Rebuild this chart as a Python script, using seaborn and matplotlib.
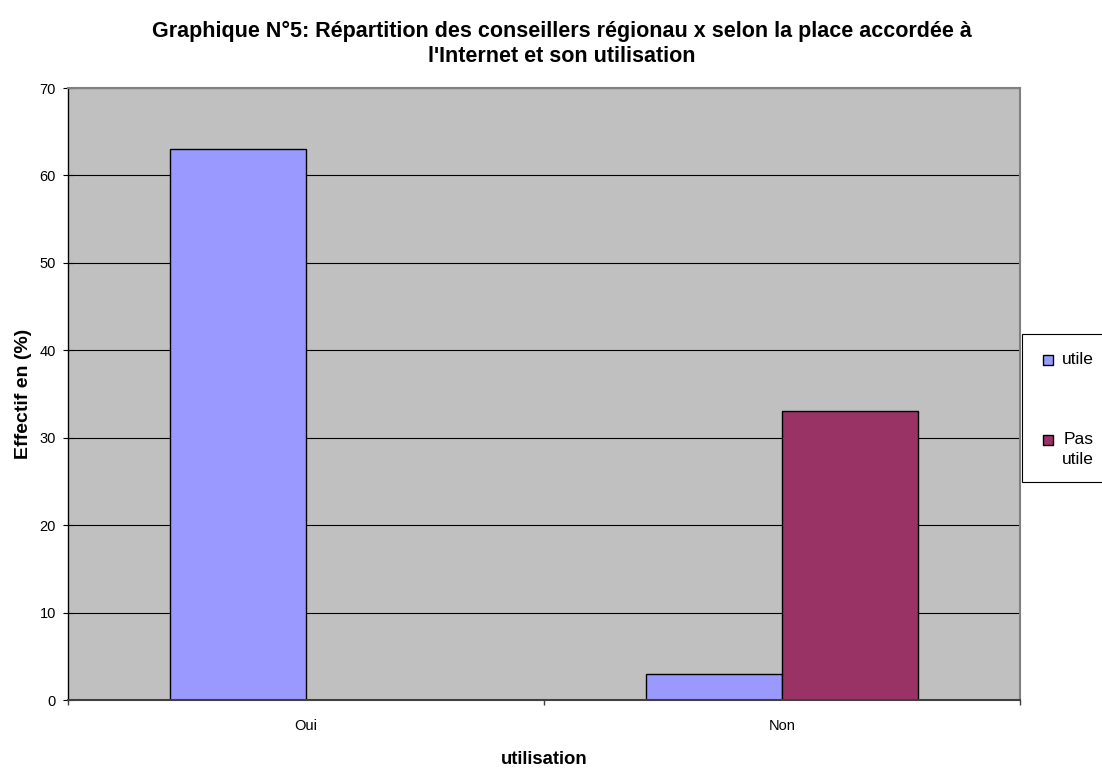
import matplotlib
matplotlib.use("Agg")
import matplotlib.pyplot as plt
import seaborn as sns
import pandas as pd
from matplotlib.patches import Rectangle

categories = ["Oui", "Non"]
series_names = ["utile", "Pas utile"]
utile = [63, 3]
pas_utile = [0, 33]
legend_labels = ["utile", "Pas\nutile"]
colors = ["#9999FF", "#993366"]

df = pd.DataFrame({
    "utilisation": categories * 2,
    "serie": [series_names[0]] * 2 + [series_names[1]] * 2,
    "valeur": utile + pas_utile,
})

sns.set_style("white")
plt.rcParams["font.family"] = ["Liberation Sans", "DejaVu Sans"]
plt.rcParams["text.color"] = "black"
plt.rcParams["axes.labelcolor"] = "black"
plt.rcParams["xtick.color"] = "black"
plt.rcParams["ytick.color"] = "black"

W, H = 1102, 768
fig = plt.figure(figsize=(W / 100, H / 100), dpi=100)
ax = fig.add_axes([68 / W, (H - 700) / H, (1020 - 68) / W, (700 - 88) / H])
ax.set_facecolor("#C0C0C0")

sns.barplot(data=df, x="utilisation", y="valeur", hue="serie", order=categories,
            hue_order=series_names, palette=colors, width=0.572, ax=ax,
            edgecolor="black", linewidth=1, saturation=1, legend=False)

ax.set_xlim(-0.5, 1.5)
ax.set_ylim(0, 70)
ax.set_yticks(range(0, 71, 10))
ax.yaxis.grid(True, color="black", linewidth=0.8)
ax.set_axisbelow(True)

ax.set_xticks([0, 1])
ax.set_xticklabels(categories, fontsize=10.5)
ax.tick_params(axis="x", which="major", length=0, pad=14, bottom=False)
ax.set_xticks([-0.5, 0.5, 1.5], minor=True)
ax.tick_params(axis="x", which="minor", bottom=True, length=3.6, direction="out",
               color="#404040", width=1)
ax.tick_params(axis="y", which="major", left=True, length=7.2, direction="inout",
               labelsize=10.5, color="black", width=0.8, pad=5)

ax.spines["left"].set_color("black")
ax.spines["left"].set_linewidth(1)
ax.spines["bottom"].set_color("#404040")
ax.spines["bottom"].set_linewidth(1.5)
for s in ["top", "right"]:
    ax.spines[s].set_color("#808080")
    ax.spines[s].set_linewidth(1.5)

ax.set_xlabel("utilisation", fontsize=13.3, fontweight="bold")
ax.xaxis.set_label_coords(0.5, (700 - 760) / 612)
ax.xaxis.label.set_va("center")
ax.set_ylabel("Effectif en (%)", fontsize=14, fontweight="bold")
ax.yaxis.set_label_coords((23 - 68) / 952, 0.5)
ax.yaxis.label.set_va("center")

fig.text(562 / W, 1 - 44 / H,
         "Graphique N°5: Répartition des conseillers régionau x selon la place accordée à\nl'Internet et son utilisation",
         fontsize=15.5, fontweight="bold", ha="center", va="center", linespacing=1.3)

# legend box (Excel-style)
fig.patches.append(Rectangle((1022 / W, 1 - 482 / H), 90 / W, 148 / H,
                             transform=fig.transFigure, facecolor="white",
                             edgecolor="black", linewidth=0.8))
leg_rows = [360, 440]
for lab, col, yc in zip(legend_labels, colors, leg_rows):
    fig.patches.append(Rectangle((1043 / W, 1 - (yc + 5) / H), 10 / W, 10 / H,
                                 transform=fig.transFigure, facecolor=col,
                                 edgecolor="black", linewidth=1))
    fig.text(1094 / W, 1 - (yc - 8) / H, lab, fontsize=12.5, ha="right", va="top",
             multialignment="right", linespacing=1.45)

fig.savefig("out.png", dpi=100)
